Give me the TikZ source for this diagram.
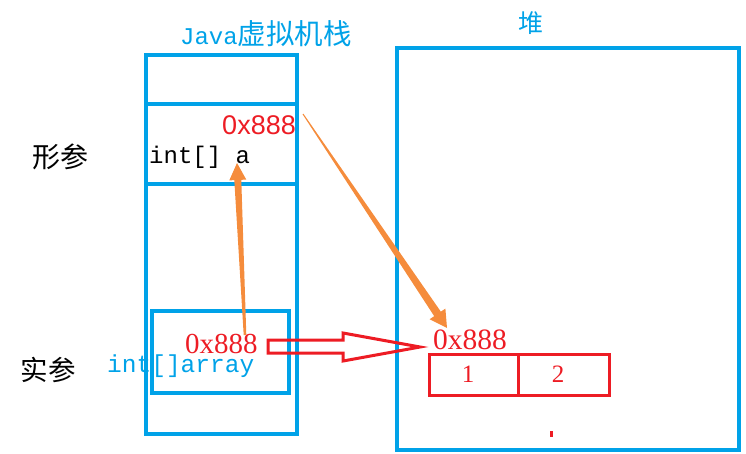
\documentclass[tikz,border=0pt]{standalone}
\usepackage{fontspec}
\setmainfont{Liberation Serif}
\setmonofont{Liberation Mono}
\newfontfamily\cjk{Noto Sans CJK SC}
\newfontfamily\arialf{Liberation Sans}
\usetikzlibrary{calc}
\definecolor{jblue}{RGB}{0,162,232}
\definecolor{jred}{RGB}{237,28,36}
\definecolor{jorange}{RGB}{245,140,60}
\newcommand\taperarrow[5]{%
  \coordinate (hb) at ($(#2)!17pt!(#1)$);
  \fill[jorange] ($(#1)!#3!90:(#2)$) -- ($(hb)!#4!-90:(#1)$) -- ($(hb)!#5!-90:(#1)$) -- (#2)
    -- ($(hb)!#5!90:(#1)$) -- ($(hb)!#4!90:(#1)$) -- ($(#1)!#3!-90:(#2)$) -- cycle;}
\tikzset{
  bluebox/.style={draw=jblue, line width=3.8pt},
  redbox/.style={draw=jred, line width=3pt},
  lbl/.style={inner sep=0pt},
}
\begin{document}
\begin{tikzpicture}[x=1pt,y=-1pt]
\useasboundingbox (0,0) rectangle (746,454);
% stack
\draw[bluebox] (146,55) rectangle (297,434);
\draw[bluebox] (146,104) -- (297,104);
\draw[bluebox] (146,184) -- (297,184);
\draw[bluebox] (152,311) rectangle (289,393);
% heap
\draw[bluebox] (397,48) rectangle (739,450);
% array
\draw[redbox] (429,354) rectangle (609,395);
\draw[redbox] (518,354) -- (518,395);
\node[lbl, text=jred, font=\fontsize{25}{28}\selectfont] (one) at (468,374) {1};
\node[lbl, text=jred, font=\fontsize{25}{28}\selectfont] (two) at (558,374) {2};
\fill[jred] (549.5,431) rectangle (552.5,437);
% titles
\node[lbl, text=jblue, anchor=base] (title) at (266,45) {{\ttfamily\fontsize{24}{26}\selectfont Java}{\cjk\fontsize{28.5}{30}\selectfont 虚拟机栈}};
\node[lbl, text=jblue, font=\cjk\fontsize{25}{28}\selectfont] (heaptitle) at (531,23) {堆};
\node[lbl, font=\cjk\fontsize{28}{30}\selectfont] (formal) at (60,157) {形参};
\node[lbl, font=\cjk\fontsize{27.5}{30}\selectfont] (actual) at (48,370) {实参};
% texts
\node[lbl, anchor=base west, font=\ttfamily\fontsize{24}{28}\selectfont] (inta) at (149,164) {int[] a};
\node[lbl, anchor=base east, text=jred, font=\arialf\fontsize{27}{30}\selectfont] (addrA) at (296,135) {0x888};
\node[lbl, anchor=base west, text=jblue, font=\ttfamily\fontsize{24.5}{28}\selectfont] (intarr) at (107,372) {int[]array};
\node[lbl, anchor=base west, text=jred, font=\fontsize{29}{30}\selectfont] (addrB) at (185,353) {0x888};
\node[lbl, anchor=base west, text=jred, font=\fontsize{29.5}{30}\selectfont] (addrH) at (433,349) {0x888};
% red hollow arrow
\draw[jred, line width=3pt, line join=miter] (268,340) -- (343,340) -- (343,333) -- (420,347) -- (343,361) -- (343,353) -- (268,353) -- cycle;
% orange arrows
\coordinate (vs) at (245,335);
\coordinate (vt) at (237,163);
\taperarrow{vs}{vt}{1.3pt}{3.5pt}{8.5pt}
\coordinate (ds) at (303,114);
\coordinate (dt) at (447,328);
\taperarrow{ds}{dt}{0.5pt}{4pt}{9.5pt}
\end{tikzpicture}
\end{document}
